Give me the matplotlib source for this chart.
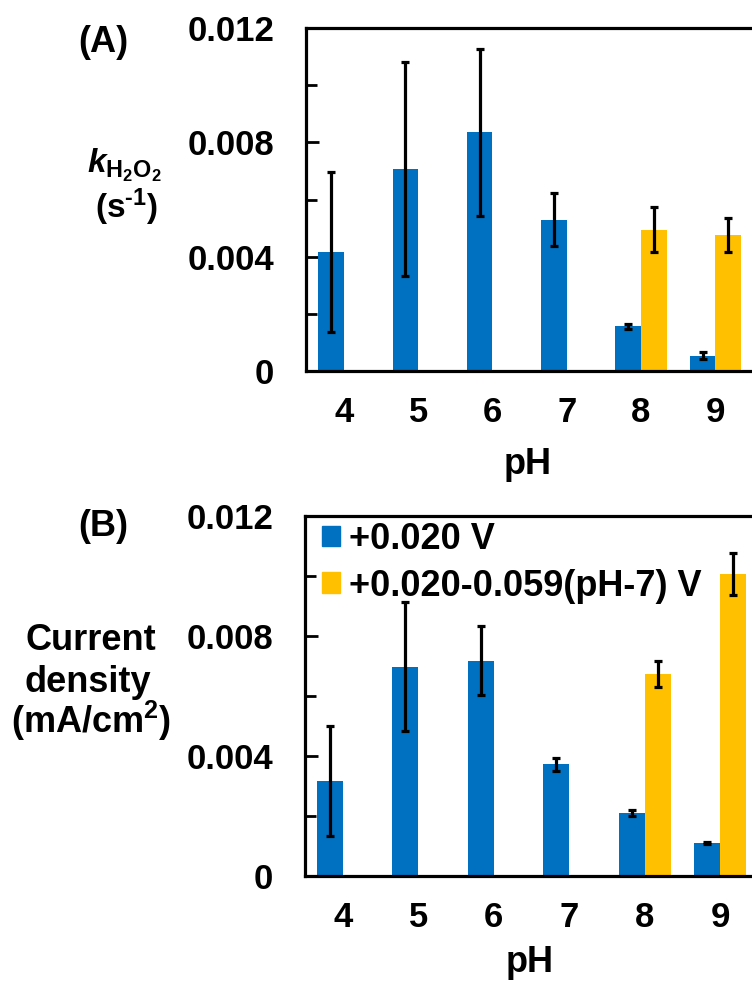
import numpy as np
import matplotlib
matplotlib.use("Agg")
import matplotlib.pyplot as plt
from matplotlib.patches import Patch

plt.rcParams['font.family'] = ['Liberation Sans', 'DejaVu Sans']
plt.rcParams['font.weight'] = 'bold'
plt.rcParams['mathtext.fontset'] = 'custom'
plt.rcParams['mathtext.rm'] = 'Liberation Sans:bold'
plt.rcParams['mathtext.bf'] = 'Liberation Sans:bold'
plt.rcParams['mathtext.it'] = 'Liberation Sans:bold:italic'
plt.rcParams['mathtext.bfit'] = 'Liberation Sans:bold:italic'

# pH values on the x axis
ph = ['4', '5', '6', '7', '8', '9']
# series at +0.020 V (all pH) and at the shifted potential (pH 8, 9 only)
shift_idx = [4, 5]

# (A) rate constant k_H2O2 (s^-1)
k_fixed = [0.00416, 0.00708, 0.00835, 0.00530, 0.00156, 0.00053]
k_fixed_err = [0.00280, 0.00374, 0.00292, 0.00092, 0.00010, 0.00012]
k_shift = [0.00495, 0.00476]
k_shift_err = [0.00080, 0.00061]

# (B) current density (mA/cm2)
j_fixed = [0.00316, 0.00697, 0.00717, 0.00371, 0.00208, 0.00108]
j_fixed_err = [0.00184, 0.00214, 0.00114, 0.00023, 0.00010, 0.00003]
j_shift = [0.00673, 0.01006]
j_shift_err = [0.00043, 0.00070]

blue = '#0070C0'
gold = '#FFC000'
w = 0.345
W, H = 752, 981
FS = 25

fig = plt.figure(figsize=(W / 100, H / 100), dpi=100)


def px_axes(left, top, right, bottom):
    return fig.add_axes([left / W, 1 - bottom / H, (right - left) / W, (bottom - top) / H])


def ftext(x, y, s, **kw):
    # place text by pixel position measured from the top-left corner
    return fig.text(x / W, 1 - y / H, s, **kw)


def draw_panel(ax, fixed, fixed_err, shift, shift_err, xlim):
    x = np.arange(len(ph))
    xs = x[shift_idx]
    ax.bar(x - w / 2, fixed, w, color=blue, zorder=2)
    ax.bar(xs + w / 2, shift, w, color=gold, zorder=2)
    ax.errorbar(x - w / 2, fixed, yerr=fixed_err, fmt='none', ecolor='black',
                elinewidth=2.3, capsize=3, capthick=2.3, zorder=3)
    ax.errorbar(xs + w / 2, shift, yerr=shift_err, fmt='none', ecolor='black',
                elinewidth=2.3, capsize=3, capthick=2.3, zorder=3)
    ax.set_xlim(*xlim)
    ax.set_ylim(0, 0.012)
    ax.set_xticks(x)
    ax.set_xticklabels(ph)
    ax.set_yticks([0, 0.004, 0.008, 0.012])
    ax.set_yticklabels(['0', '0.004', '0.008', '0.012'])
    ax.set_yticks([0.002, 0.006, 0.010], minor=True)
    ax.tick_params(axis='x', length=0, pad=18, labelsize=FS)
    ax.tick_params(axis='y', which='major', direction='in', length=9, width=2,
                   pad=23, labelsize=FS)
    ax.tick_params(axis='y', which='minor', direction='in', length=8, width=2)
    for side in ['left', 'bottom', 'top']:
        ax.spines[side].set_linewidth(2.3)
    ax.spines['right'].set_visible(False)


ax1 = px_axes(306, 28, 752.5, 371)
draw_panel(ax1, k_fixed, k_fixed_err, k_shift, k_shift_err, (-0.51, 5.5))

ax2 = px_axes(305, 515.7, 758, 875.7)
draw_panel(ax2, j_fixed, j_fixed_err, j_shift, j_shift_err, (-0.5, 5.5))

# panel letters
ftext(103, 43, '(A)', ha='center', va='center', fontsize=26)
ftext(103, 527, '(B)', ha='center', va='center', fontsize=26)

# y titles
ftext(124, 173, r'$\mathbfit{k}_{\mathbf{H_2O_2}}$', ha='center', va='baseline',
      fontsize=24)
ftext(127, 218, r'(s$^{\text{-1}}$)', ha='center', va='baseline', fontsize=24)

ftext(91, 650, 'Current', ha='center', va='baseline', fontsize=26)
ftext(88, 692, 'density', ha='center', va='baseline', fontsize=26)
ftext(91, 733, '(mA/cm$^{\\mathbf{2}}$)', ha='center', va='baseline', fontsize=26)

# x titles
ftext(528, 474, 'pH', ha='center', va='baseline', fontsize=26)
ftext(530, 972, 'pH', ha='center', va='baseline', fontsize=26)

handles = [Patch(color=blue), Patch(color=gold)]
ax2.legend(handles, ['+0.020 V', '+0.020-0.059(pH-7) V'], loc='upper left',
           bbox_to_anchor=(322 / W, 1 - 522 / H), bbox_transform=fig.transFigure,
           frameon=False, fontsize=26, handlelength=0.5, handleheight=0.5,
           handletextpad=0.25, labelspacing=0.32, borderpad=0, borderaxespad=0)

fig.savefig('out.png', dpi=100)
